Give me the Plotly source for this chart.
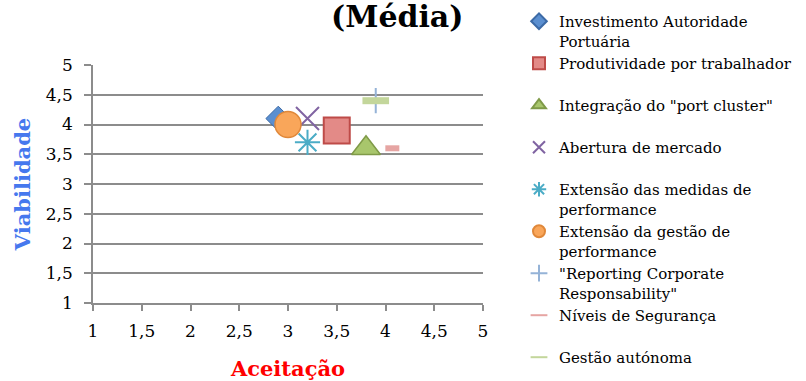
import plotly.graph_objects as go

# Data
series_names = [
    "Investimento Autoridade<br>Portuária",
    "Produtividade por trabalhador<br> ",
    "Integração do \"port cluster\"<br> ",
    "Abertura de mercado<br> ",
    "Extensão das medidas de<br>performance",
    "Extensão da gestão de<br>performance",
    "\"Reporting Corporate<br>Responsability\"",
    "Níveis de Segurança<br> ",
    "Gestão autónoma<br> ",
]
aceitacao = [2.9, 3.5, 3.8, 3.2, 3.2, 3.0, 3.9, 4.07, 3.9]
viabilidade = [4.1, 3.9, 3.6, 4.1, 3.7, 4.0, 4.4, 3.6, 4.4]
x_ticks = [1, 1.5, 2, 2.5, 3, 3.5, 4, 4.5, 5]
x_ticklabels = ["1", "1,5", "2", "2,5", "3", "3,5", "4", "4,5", "5"]
y_ticks = [1, 1.5, 2, 2.5, 3, 3.5, 4, 4.5, 5]
y_ticklabels = ["1", "1,5", "2", "2,5", "3", "3,5", "4", "4,5", "5"]

# Styles
styles = [
    dict(symbol="diamond", size=19, color="#5B8FD0", line=dict(color="#3C6AA6", width=1)),
    dict(symbol="square", size=26, color="#E38A87", line=dict(color="#BE4B48", width=2)),
    dict(symbol="triangle-up", size=25, color="#A8C66C", line=dict(color="#7F9A48", width=1.5)),
    dict(symbol="x-thin-open", size=23, color="#8064A2", line=dict(color="#8064A2", width=2)),
    dict(symbol="asterisk-open", size=21, color="#4BACC6", line=dict(color="#4BACC6", width=2)),
    dict(symbol="circle", size=26, color="#F9A65A", line=dict(color="#E0883A", width=1.5)),
    dict(symbol="cross-thin-open", size=18, color="#95B3D7", line=dict(color="#95B3D7", width=2)),
    dict(symbol="line-ew-open", size=10, color="#E6A5A3", line=dict(color="#E6A5A3", width=6)),
    dict(symbol="line-ew-open", size=19, color="#C3D69B", line=dict(color="#C3D69B", width=7)),
]

fig = go.Figure()
for i, name in enumerate(series_names):
    fig.add_trace(go.Scatter(
        x=[aceitacao[i]], y=[viabilidade[i]], mode="markers", name=name,
        marker=styles[i],
    ))

serif = "DejaVu Serif"
axis_gray = "#8C8C8C"

fig.update_layout(
    width=806, height=381,
    margin=dict(l=93, r=323, t=65, b=78, autoexpand=False),
    paper_bgcolor="white", plot_bgcolor="white",
    font=dict(family=serif, color="black"),
    showlegend=True,
    legend=dict(
        xref="container", yref="container",
        x=519 / 806, xanchor="left", y=0.987, yanchor="top",
        font=dict(family=serif, size=15, color="black"),
        valign="top", itemsizing="constant", maxheight=600,
        tracegroupgap=0, bgcolor="rgba(0,0,0,0)",
    ),
    xaxis=dict(
        range=[1, 5], tickvals=x_ticks, ticktext=x_ticklabels,
        showgrid=False, zeroline=False,
        showline=True, linecolor=axis_gray, linewidth=1.5,
        ticks="outside", ticklen=6, tickcolor=axis_gray, tickwidth=1.5,
        tickfont=dict(family=serif, size=17, color="black"),
        ticklabelstandoff=6,
        title=dict(text="<b>Aceitação</b>", font=dict(family=serif, size=21, color="#FF0000"), standoff=25),
    ),
    yaxis=dict(
        range=[1, 5], tickvals=y_ticks, ticktext=y_ticklabels,
        showgrid=True, gridcolor=axis_gray, gridwidth=1.5, zeroline=False,
        showline=True, linecolor=axis_gray, linewidth=1.5,
        ticks="outside", ticklen=7, tickcolor=axis_gray, tickwidth=1.5,
        tickfont=dict(family=serif, size=17, color="black"),
        ticklabelstandoff=8,
        title=dict(text="<b>Viabilidade</b>", font=dict(family=serif, size=21, color="#4678EE"), standoff=9),
    ),
    annotations=[dict(
        text="<b>(Média)</b>", xref="paper", yref="paper", x=0.782, y=1.0,
        xanchor="center", yanchor="bottom", yshift=29, showarrow=False,
        font=dict(family=serif, size=30, color="black"),
    )],
)

fig.write_html("out.html")
